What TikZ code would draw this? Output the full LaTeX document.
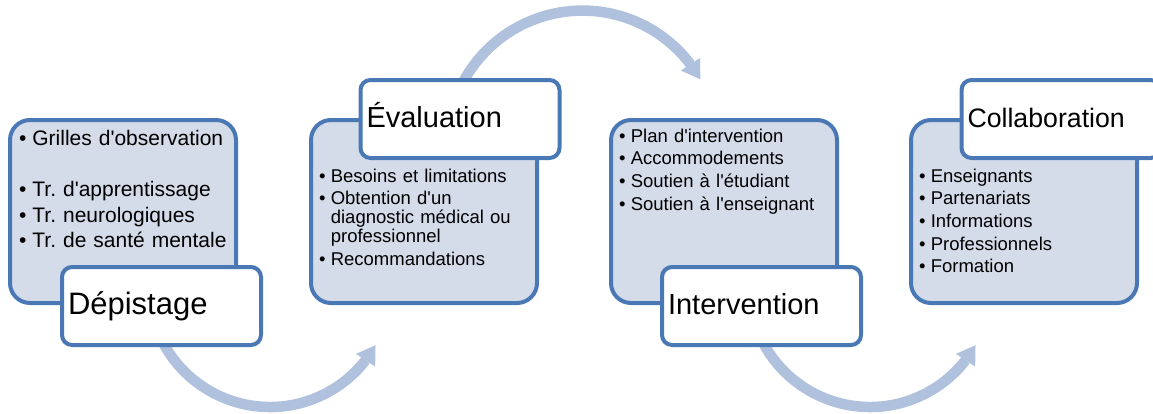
\documentclass[tikz,border=0pt]{standalone}
\usepackage{fontspec}
\setmainfont{Liberation Sans}[Ligatures=TeXOff]
\usetikzlibrary{arrows.meta}
\usetikzlibrary{bending}

\definecolor{boxfill}{HTML}{D4DBE9}
\definecolor{boxline}{HTML}{4A78B4}
\definecolor{flowblue}{HTML}{AFC1DD}

\newcommand\ListItem[1]{\frenchspacing\hyphenpenalty=10000
	\rightskip=0pt plus 1fil\parskip=0.2em\hangindent=0.628em\hangafter=1%
	\noindent\hbox to 0.628em{\textbullet\hfil}#1\par}

\begin{document}
\begin{tikzpicture}
	[x=1pt, y=1pt]

\tikzstyle{content box}=[draw=boxline, fill=boxfill, line width=4pt,
	rounded corners=20pt, minimum width=226pt, minimum height=183pt]
\tikzstyle{title box}=[draw=boxline, fill=white, line width=4pt,
	rounded corners=10pt, minimum height=78pt, text width=187pt,
	inner xsep=6pt, inner ysep=0pt, align=left,
	text height=22pt, text depth=5.5pt]
\tikzstyle{item list}=[anchor=base west, inner sep=0pt, text width=212pt,
	align=left, font=\fontsize{18.5}{19}\selectfont]
\tikzstyle{flow}=[draw=flowblue, line width=10.5pt,
	-{Triangle[width=23pt, length=18pt, line width=0pt]}]

\def\BoxY{-211.5}
\def\TitleLow{-306}
\def\TitleHigh{-119}

\useasboundingbox (0,0) rectangle (1153,-413);

% Flow arrows, they run under the title boxes
\coordinate (f1) at (270,-286);
\coordinate (f2) at (582.5,-146);
\coordinate (f3) at (870,-286);
\draw[flow] (f1) ++(200:121) arc[start angle=200, end angle=330.7, radius=121];
\draw[flow] (f2) ++(155:135.4) arc[start angle=155, end angle=29.5, radius=135.4];
\draw[flow] (f3) ++(200:121) arc[start angle=200, end angle=330.7, radius=121];

% Content boxes
\node[content box] (c1) at (123,\BoxY) {};
\node[content box] (c2) at (424,\BoxY) {};
\node[content box] (c3) at (724,\BoxY) {};
\node[content box] (c4) at (1024,\BoxY) {};

% Bullet lists
\node[item list, font=\fontsize{21}{21.5}\selectfont] (l1)
	at ([xshift=11pt,yshift=-27pt]c1.north west)
	{\ListItem{Grilles d'observation}\noindent\mbox{}\par
	\ListItem{Tr. d'apprentissage}\ListItem{Tr. neurologiques}%
	\ListItem{Tr. de santé mentale}};
\node[item list] (l2) at ([xshift=10pt,yshift=-64pt]c2.north west)
	{\ListItem{Besoins et limitations}%
	\ListItem{Obtention d'un diagnostic médical ou professionnel}%
	\ListItem{Recommandations}};
\node[item list] (l3) at ([xshift=10pt,yshift=-24pt]c3.north west)
	{\ListItem{Plan d'intervention}\ListItem{Accommodements}%
	\ListItem{Soutien à l'étudiant}\ListItem{Soutien à l'enseignant}};
\node[item list] (l4) at ([xshift=10pt,yshift=-64pt]c4.north west)
	{\ListItem{Enseignants}\ListItem{Partenariats}\ListItem{Informations}%
	\ListItem{Professionnels}\ListItem{Formation}};

% Title boxes
\node[title box, font=\fontsize{31}{31}\selectfont] (t1) at (161.5,\TitleLow) {Dépistage};
\node[title box, font=\fontsize{29}{29}\selectfont] (t2) at (460,\TitleHigh) {Évaluation};
\node[title box, font=\fontsize{29}{29}\selectfont] (t3) at (761.5,\TitleLow) {Intervention};
\node[title box, font=\fontsize{26.7}{26.7}\selectfont] (t4) at (1061,\TitleHigh) {Collaboration};

\end{tikzpicture}
\end{document}
